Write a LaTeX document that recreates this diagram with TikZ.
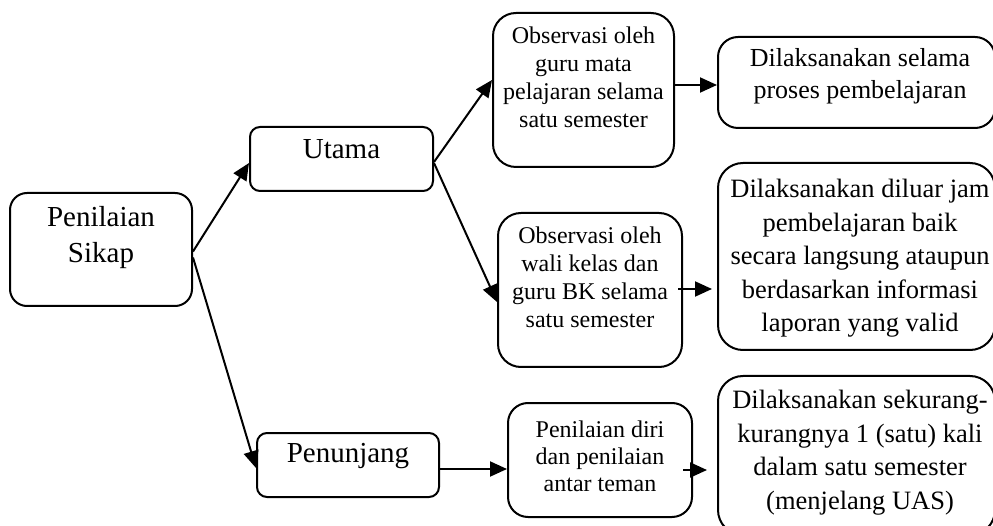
\documentclass[tikz,border=0pt]{standalone}
\usepackage{fontspec}
\setmainfont{Liberation Serif}
\usetikzlibrary{arrows.meta,calc}
\begin{document}
\begin{tikzpicture}[x=1pt,y=-1pt,
  box/.style={draw,line width=2pt,inner sep=0pt,rounded corners=#1},
  box/.default=20pt,
  txt/.style={inner sep=0pt,align=center,anchor=north},
  big/.style={font=\fontsize{29pt}{36pt}\selectfont},
  mid/.style={font=\fontsize{24pt}{28pt}\selectfont},
  lrg/.style={font=\fontsize{26.5pt}{33.5pt}\selectfont},
  arr/.style={line width=2pt,-{Triangle[length=17pt,width=15pt]}}]
\useasboundingbox (0,0) rectangle (993,526);
% boxes
\node[box=17pt,minimum width=182pt,minimum height=113pt] (sikap) at (101,249.5) {};
\node[box=10pt,minimum width=183pt,minimum height=64pt] (utama) at (341.5,159) {};
\node[box=10pt,minimum width=182pt,minimum height=64pt] (penunjang) at (348,465) {};
\node[box=23pt,minimum width=181pt,minimum height=154pt] (obs1) at (583.5,90) {};
\node[box=23pt,minimum width=184pt,minimum height=154pt] (obs2) at (590,290) {};
\node[box=20pt,minimum width=184pt,minimum height=114pt] (obs3) at (600,460) {};
\node[box=20pt,minimum width=277pt,minimum height=91pt] (d1) at (856.5,82.5) {};
\node[box=25pt,minimum width=277pt,minimum height=187pt] (d2) at (856.5,256.5) {};
\node[box=25pt,minimum width=277pt,minimum height=159pt] (d3) at (856.5,455.5) {};
% texts
\node[txt,big] (tsikap) at (101,206) {Penilaian\\Sikap};
\node[txt,big] (tutama) at (341.5,139) {Utama};
\node[txt,big] (tpenunjang) at (348,443) {Penunjang};
\node[txt,mid] (tobs1) at (583.5,26.5) {Observasi oleh\\guru mata\\pelajaran selama\\satu semester};
\node[txt,mid] (tobs2) at (590,226.5) {Observasi oleh\\wali kelas dan\\guru BK selama\\satu semester};
\node[txt,mid,font=\fontsize{24pt}{27pt}\selectfont] (tobs3) at (600,420.5) {Penilaian diri\\dan penilaian\\antar teman};
\node[txt,lrg,font=\fontsize{26pt}{32pt}\selectfont] (td1) at (860,48) {Dilaksanakan selama\\proses pembelajaran};
\node[txt,lrg] (td2) at (860,179) {Dilaksanakan diluar jam\\pembelajaran baik\\secara langsung ataupun\\berdasarkan informasi\\laporan yang valid};
\node[txt,lrg] (td3) at (860,390) {Dilaksanakan sekurang-\\kurangnya 1 (satu) kali\\dalam satu semester\\(menjelang UAS)};
% connectors
\draw[arr] ($(sikap.east)+(0,2)$) -- ($(utama.west)+(0,4)$);
\draw[arr] ($(sikap.east)+(0,8)$) -- ($(penunjang.west)+(0,3)$);
\draw[arr] ($(utama.east)+(0,3)$) -- ($(obs1.west)+(0,-10)$);
\draw[arr] ($(utama.east)+(0,4)$) -- ($(obs2.west)+(0,12)$);
\draw[arr] ([yshift=5pt]obs1.east) -- ([yshift=5pt]obs1.east -| d1.west);
\draw[arr] ([xshift=-5pt,yshift=1pt]obs2.east) -- ([xshift=-5pt,yshift=1pt]obs2.east -| d2.west);
\draw[arr] ([yshift=-4pt]penunjang.east) -- ([yshift=-4pt]penunjang.east -| obs3.west);
\draw[arr] ([xshift=-10pt,yshift=-10pt]obs3.east) -- ([xshift=-10pt,yshift=-10pt]obs3.east -| d3.west);
\end{tikzpicture}
\end{document}
